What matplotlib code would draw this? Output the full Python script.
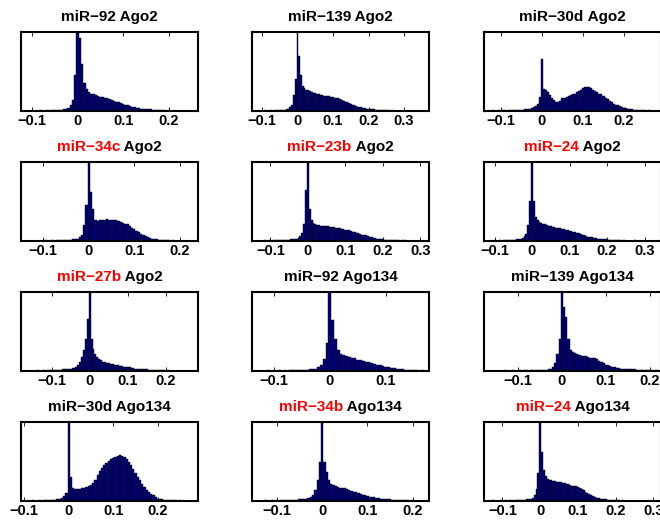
import numpy as np
import matplotlib
matplotlib.use('Agg')
import matplotlib.pyplot as plt

plt.rcParams['font.family'] = ['Liberation Sans', 'DejaVu Sans']

BIN = 0.005

# panel titles (red part = miRNA whose name is highlighted)
mirs = ['miR\u221292', 'miR\u2212139', 'miR\u221230d',
        'miR\u221234c', 'miR\u221223b', 'miR\u221224',
        'miR\u221227b', 'miR\u221292', 'miR\u2212139',
        'miR\u221230d', 'miR\u221234b', 'miR\u221224']
agos = ['Ago2', 'Ago2', 'Ago2',
        'Ago2', 'Ago2', 'Ago2',
        'Ago2', 'Ago134', 'Ago134',
        'Ago134', 'Ago134', 'Ago134']
red = [0, 0, 0, 1, 1, 1, 1, 0, 0, 0, 1, 1]

# first bin centre and x range of each panel
starts = [-0.120, -0.125, -0.140, -0.145, -0.145, -0.125,
          -0.180, -0.135, -0.175, -0.105, -0.155, -0.145]
xlims = [(-0.124, 0.264), (-0.128, 0.370), (-0.141, 0.290),
         (-0.149, 0.240), (-0.149, 0.323), (-0.128, 0.344),
         (-0.180, 0.284), (-0.139, 0.177), (-0.177, 0.225),
         (-0.107, 0.290), (-0.155, 0.236), (-0.149, 0.320)]
tick_vals = [-0.1, 0.0, 0.1, 0.2, 0.3]

# bin heights, % of axis height
h_mir92_ago2 = [0.5,0,0.5,0.5,0,0.5,0.5,0.5,1,0.5,0.5,1,0.5,1,1,1,1,
                1.5,2,3,4,7,14,45,
                100,
                92,60,35,28,24,22,21,20,19,18,
                17.5,17,16,15,14,13,12,11,10,9,
                8,7,6,5.5,5,4,3.5,3,2.5,2.5,
                2,2,1.5,1.5,1,1,
                1,1,0.5,1,0.5,0.5,0.5,0.5,0.5,0.5,0.5,0,0.5,0.5,0,0.5]
h_mir139_ago2 = [0.5,0.5,0,0.5,0.5,0.5,0.5,1,0.5,0.5,1,0.5,1,1,1,1,1,1,
                 1.5,2,3,5,8,20,40,
                 100,
                 70,45,32,29,27,26,25,24,23,22.5,
                 22,21,20.5,20,19.5,19,19,18.5,18,17.5,
                 17,16.5,16,15,14,13,12,11,10,9,
                 8,7,6.5,5.5,5,4.5,4,3.5,3,2.5,
                 2.5,2,2,1.5,1.5,1.5,1,1,1,1,
                 1,0.5,1,0.5,0.5,0.5,0.5,0.5,0.5,0.5,
                 0.5,0.5,0,0.5,0.5,0.5,0.5,0,0.5,0.5,
                 0.5,0.5,0.5]
h_mir30d_ago2 = [0.5,0.5,0.5,0.5,1,0.5,0.5,1,0.5,1,1,0.5,1,1,1,1,1,1.5,1.5,
                 1.5,2,2.5,3,4,5,6,9,18,
                 66,
                 28,27,24,20,17,14,12,11,13,16,
                 17,18,19,20,21,22,24,25,27,29,
                 31,30,31,29,27,25,24,22,21,19,
                 17,15,13,11,9,8,7,6,5,4,
                 3.5,3,2.5,2,1.5,1.5,1.2,1,1,1,
                 0.5,1,0.5,0.5,0.5,0.5,0.5]
h_mir34c_ago2 = [0.5,0.5,0.5,0.5,0.5,0,0.5,0.5,0.5,0.5,1,0.5,0.5,1,0.5,1,1,1,1,1,1.5,
                 1.5,2,2.5,3,5,8,20,45,
                 100,
                 62,40,26,25,26,27,27,28,27,26,
                 27,26,25,24,23,22,21,19,17,15,
                 13,11,9,8,6,5,4,3,2.5,2,
                 1.5,1.5,1,1,1,0.5,1,0.5,0.5,0.5,
                 0.5,0.5,0,0.5,0.5,0,0.5,0.5]
h_mir23b_ago2 = [0.5,0.5,0.5,0.5,0.5,0.5,1,0.5,0.5,1,0.5,1,1,1,1,1,1,1.5,1.5,
                 1.5,2,2,2.5,3,4,6,10,22,65,
                 100,
                 40,27,23,21,20,20,19.5,19,19,18.5,
                 18.5,18,18,17.5,17,16.5,16,15.5,15,14.5,
                 14,13.5,13,12,11,10.5,10,9,8,7.5,
                 7,6,5.5,5,4,3.5,3,2.5,2,2,
                 1.5,1.5,1.5,1,1,1,1,1,0.5,1,
                 0.5,1,0.5,0.5,0.5,0.5,0.5,0.5,0,0.5,
                 0.5,0.5,0,0.5]
h_mir24_ago2 = [0.5,0.5,0.5,0.5,0.5,1,0.5,0.5,1,0.5,1,1,1,1,1,
                1.5,1.5,2,2.5,3,4,6,9,20,50,
                100,
                50,30,27,24,23,22,21,20,19,18.5,
                18,17.5,17,16.5,16,15.5,15,14.5,14,13,
                12.5,12,11,10,9.5,8.5,7.5,7,6,5.5,
                5,4.5,4,3.5,3,3,2.5,2.5,2,2,
                1.5,1.5,1.5,1,1,1,1,0.5,1,0.5,
                0.5,0.5,0.5,0.5,1,0.5,0.5,0.5,0.5,0.5,
                0.5,0,0.5,0.5,0.5,0,0.5,0.5,0.5]
h_mir27b_ago2 = [0.5,0.5,0.5,0.5,0.5,0.5,0.5,0.5,0.5,1,0.5,0.5,1,0.5,1,1,
                 1,1,1,1.5,1.5,1.5,2,2,2.5,3,3,3.5,4,5,8,12,18,27,40,66,
                 100,
                 40,28,22,18,15,13.5,12,11,10.5,10,
                 9,8.5,8,7.5,7,6.5,6,5.5,5,5,
                 4.5,4,3.5,3,3,2.5,2.5,2,2,2,
                 1.5,1.5,1.5,1,1,1,1,1,1,0.5,
                 1,0.5,0.5,0.5,0.5,0.5,0.5,0.5,0.5,0.5,
                 0.5,0.5,0,0.5,0.5,0.5]
h_mir92_ago134 = [0.5,0.5,0.5,0.5,0.5,1,0.5,0.5,0.5,1,0.5,1,0.5,1,1,1,1,1,1,
                  1.5,2,2.5,3,5,8,15,35,
                  100,
                  64,41,26,22,20,19,18,17,16,14,
                  13.5,13,12,11,10,9,8,7,6,5.5,
                  5,4,3.5,3,2.5,2,1.5,1.5,1,1,
                  1,0.5,1,0.5,0.5]
h_mir139_ago134 = [0.5,0.5,0.5,0.5,0.5,0.5,0.5,0.5,0.5,1,0.5,0.5,0.5,1,0.5,0.5,1,0.5,1,1,
                   0.5,1,1,1,1,1,1,
                   1.5,1.5,2,3,5,10,22,40,
                   100,
                   81,68,41,26,24,23,21,20,19.5,19,
                   18.5,18,17,16.5,16,15,13,11,9.5,8,
                   7,6,5,4.5,4,3.5,3,3,2.5,2.5,
                   2,2,2,1.5,1.5,1.5,1,1,1,1,
                   1,0.5,1,0.5,0.5]
h_mir30d_ago134 = [0.5,0.5,0.5,0.5,0.5,1,0.5,0.5,1,0.5,1,1,1,1,1.5,
                   1.5,2,2.5,4,6,10,
                   100,
                   30,17,15,15,15.5,16,17,18,19,20,
                   23,27,33,38,42,45,48,51,53,54,
                   56,57,58,57,56,53,50,45,40,35,
                   30,26,22,18,14,11,9,7,5,3,
                   2.5,2,1.5,1.5,1,1,1,1,0.5,1,
                   0.5,0.5,0.5,0.5,0.5,0,0.5,0.5]
h_mir34b_ago134 = [0.5,0.5,0.5,0.5,0.5,0.5,1,0.5,0.5,1,0.5,1,0.5,1,1,1,1,
                   1,1,1.5,1.5,2,2,2.5,3,4,5,8,14,26,50,
                   100,
                   49,37,26,22,20,19,18,17,16.5,16,
                   15,14,13,12,11,10,9,8,7,6.5,
                   5.5,5,4.5,4,3.5,3,3,2.5,2,2,
                   1.5,1.5,1.5,1,1,1,1,1,0.5,1,
                   0.5,0.5,0.5,0.5,0.5,0,0.5]
h_mir24_ago134 = [0.5,0.5,0.5,0.5,1,0.5,0.5,0.5,1,0.5,0.5,1,0.5,1,1,0.5,1,1,1,1,1.5,
                  1.5,2,2.5,3,4,7,15,35,
                  100,
                  62,39,32,28,27,26,25.5,25,24.5,24,
                  23.5,23,22.5,22,21,20,19.5,19,18.5,18,
                  16.5,15,13.5,12,10.5,9,7.5,6,5,4,
                  3.5,3,2.5,2,2,1.5,1.5,1,1,1,
                  1,1,0.5,1,0.5,0.5,0.5,0.5,0.5,0.5,
                  0.5,0,0.5,0.5,0.5,0.5,0,0.5,0.5,0.5,0,0.5,0.5,0.5]

heights = [h_mir92_ago2, h_mir139_ago2, h_mir30d_ago2,
           h_mir34c_ago2, h_mir23b_ago2, h_mir24_ago2,
           h_mir27b_ago2, h_mir92_ago134, h_mir139_ago134,
           h_mir30d_ago134, h_mir34b_ago134, h_mir24_ago134]


def tick_label(v):
    if abs(v) < 1e-9:
        return '0'
    s = '%g' % v
    return s.replace('-', '\u2212')


def main():
    W, H = 660, 525
    fig = plt.figure(figsize=(6.6, 5.25), dpi=100)

    col_left = [21, 252, 484]
    row_top = [32, 162, 292, 422]
    aw, ah = 177, 79

    titles = []
    for k in range(12):
        r, c = divmod(k, 3)
        ax = fig.add_axes([col_left[c] / W, 1 - (row_top[r] + ah) / H, aw / W, ah / H])
        vals = np.array(heights[k])
        centers = starts[k] + BIN * np.arange(len(vals))
        ax.bar(centers, vals, width=BIN, color='#000080', edgecolor='black',
               linewidth=0.3, align='center')
        lo, hi = xlims[k]
        ax.set_xlim(lo, hi)
        ax.set_ylim(0, 100)
        ticks = [t for t in tick_vals if lo <= t <= hi]
        ax.set_xticks(ticks)
        ax.set_xticklabels([tick_label(t) for t in ticks], fontsize=10.5, fontweight='bold')
        ax.set_yticks([])
        ax.tick_params(axis='x', direction='in', top=True, bottom=True, length=3,
                       width=0.6, pad=2.5)
        for sp in ax.spines.values():
            sp.set_linewidth(1.5)

        t1 = ax.annotate(mirs[k], xy=(0.5, 1), xycoords='axes fraction',
                         xytext=(0, 6), textcoords='offset points',
                         ha='left', va='bottom', fontsize=11, fontweight='bold',
                         color='red' if red[k] else 'black')
        t2 = ax.annotate(' ' + agos[k], xy=(1, 0), xycoords=t1,
                         ha='left', va='bottom', fontsize=11, fontweight='bold',
                         color='black')
        titles.append((t1, t2))

    # centre the two-coloured titles over their axes
    fig.canvas.draw()
    for t1, t2 in titles:
        w = t1.get_window_extent().width + t2.get_window_extent().width
        t1.xyann = (-w / 2 * 72 / fig.dpi, 6)

    fig.savefig('out.png', dpi=100)


if __name__ == '__main__':
    main()
